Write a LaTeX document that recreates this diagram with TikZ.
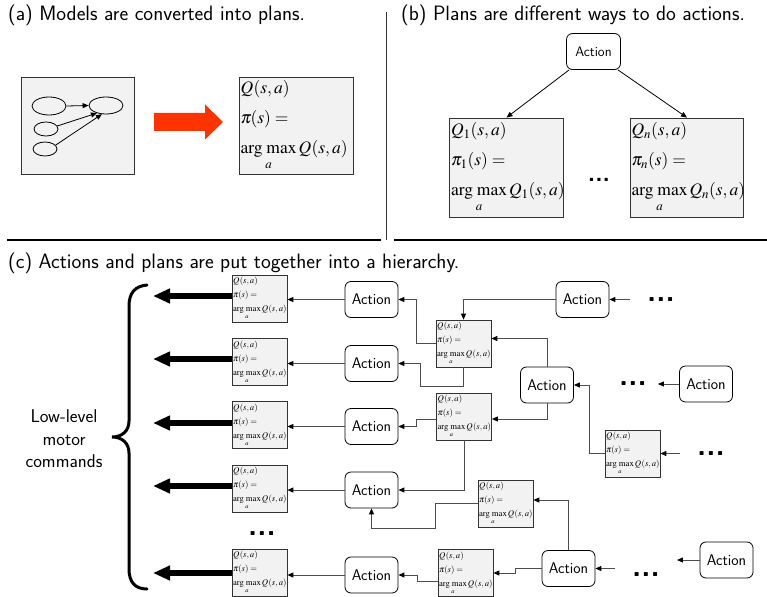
\documentclass[tikz,border=0pt]{standalone}
\usepackage{mathptmx}
\usepackage{xcolor}
\definecolor{Edge}{HTML}{333333}
\definecolor{Wire}{HTML}{4D4D4D}
\definecolor{Paper}{HTML}{F2F2F2}
\definecolor{Hot}{HTML}{FF3300}
\usepackage{tikz}
\usetikzlibrary{arrows.meta,positioning,shapes.geometric}
\tikzset{
  plan/.style={draw=Edge,fill=Paper,line width=0.8pt,inner xsep=1.2pt,inner ysep=0pt,
    minimum width=114pt,minimum height=97pt,text width=111pt,align=left,
    font=\fontsize{17.5}{30}\selectfont},
  miniplan/.style={plan,minimum width=55pt,minimum height=47pt,text width=53pt,
    inner xsep=0.8pt,line width=0.7pt,font=\fontsize{8.7}{14}\selectfont},
  act/.style={draw=black,rounded corners=6pt,minimum width=53pt,minimum height=36pt,
    inner sep=0pt,line width=0.8pt,font=\sffamily\fontsize{15.5}{18}\selectfont},
  blob/.style={ellipse,draw,line width=0.8pt,inner sep=0pt},
  link/.style={-{Triangle[length=6pt,width=5pt,color=black]},line width=0.9pt,draw=Wire},
  feed/.style={-{Triangle[length=6pt,width=5pt]},line width=0.8pt,draw=black},
  motor/.style={-{Triangle[length=17pt,width=14pt]},line width=6pt},
  more/.style={font=\sffamily\bfseries\fontsize{30}{30}\selectfont,inner xsep=17pt,inner ysep=0pt},
  caption/.style={font=\sffamily\fontsize{20.8}{24}\selectfont,anchor=base west,inner sep=0pt}
}
\newcommand{\qplan}[1]{$Q_{#1}(s,a)$\\ $\pi_{#1}(s)=$\\ $\mathop{\mathrm{arg}\mkern4mu\mathrm{max}}\limits_a Q_{#1}(s,a)$}
\newcommand{\etc}{{.}{.}{.}}

\begin{document}
\begin{tikzpicture}[x=1pt,y=-1pt]
  \useasboundingbox (0,0) rectangle (767,596);
  \clip (0,0) rectangle (767,596);
  % panel frames
  \draw[line width=1.5pt] (7,240) -- (381,240) (394,240) -- (767,240);
  \draw[Edge,line width=1.2pt] (386.5,12) -- (386.5,240);
  \node[caption] (ta) at (8,21) {(a) Models are converted into plans.};
  \node[caption] (tb) at (401,21) {(b) Plans are different ways to do actions.};
  \node[caption] (tc) at (8,268) {(c) Actions and plans are put together into a hierarchy.};

  % (a)
  \node[draw=Edge,fill=Paper,line width=0.8pt,minimum width=113pt,minimum height=97pt] (model) at (77.5,125.5) {};
  \node[blob,minimum width=34pt,minimum height=18pt] (e1) at (49,106) {};
  \node[blob,minimum width=34pt,minimum height=17pt] (e2) at (106,105.5) {};
  \node[blob,minimum width=24pt,minimum height=14pt] (e3) at (46,129) {};
  \node[blob,minimum width=24pt,minimum height=14pt] (e4) at (45,149) {};
  \draw[feed] (e1.east) -- (e2.west);
  \draw[feed] (e3.15) -- (e2.220);
  \draw[feed] (e4.20) -- (e2.245);
  \fill[Hot] (154,113) -- (205,113) -- (205,104.5) -- (223,122) -- (205,139.5) -- (205,131) -- (154,131) -- cycle;
  \node[plan] (plan) at (296,125.5) {\qplan{}};

  % (b)
  \node[act,minimum width=54pt,font=\sffamily\fontsize{13.8}{16}\selectfont] (top) at (593.5,51.5) {Action};
  \node[plan,minimum width=113pt,minimum height=99pt] (Q1) at (506.5,167.5) {\qplan{1}};
  \node[plan,minimum width=112pt,minimum height=99pt] (Qn) at (687,167.5) {\qplan{n}};
  \node[more,font=\sffamily\bfseries\fontsize{24}{24}\selectfont] (bdots) at (599,180) {\etc};
  \draw[feed] (top.217) -- (Q1.north);
  \draw[feed] (top.323) -- (Qn.north);

  % (c)
  \draw[line width=3pt,line cap=round] (147,285) .. controls (135,286) and (129,293) .. (129,306) -- (129,421)
    .. controls (129,431) and (122,437) .. (112,437) .. controls (122,437) and (129,443) .. (129,453)
    -- (129,569) .. controls (129,582) and (135,589) .. (147,589);
  \node[align=center,font=\sffamily\fontsize{18.5}{22.5}\selectfont] (lowlevel) at (64,439) {Low-level\\motor\\commands};
  \foreach \n/\y/\a/\m in {1/298.5/299.5/296,2/362/363.5/359,3/425/426.5/423,4/488.5/490/486,5/572.5/575/573}{
    \node[miniplan] (P\n) at (259.5,\y) {\qplan{}};
    \node[act] (A\n) at (371.5,\a) {Action};
    \coordinate (C\n) at (153,\m);
    \draw[motor] (P\n.west |- C\n) -- (C\n);
    \draw[link] (A\n.west) -- (A\n.west -| P\n.east);
  }
  \node[more,inner xsep=0pt] (ldots) at (262,534) {\etc};

  \node[miniplan] (M1) at (463.5,343.5) {\qplan{}};
  \node[miniplan] (M2) at (464,416.5) {\qplan{}};
  \node[miniplan] (M3) at (505.5,503.5) {\qplan{}};
  \node[miniplan] (M4) at (465.5,573) {\qplan{}};
  \node[miniplan] (R1) at (632.5,453.5) {\qplan{}};
  \node[act] (TA) at (582.5,299.5) {Action};
  \node[act] (MA) at (547,385) {Action};
  \node[act] (RA) at (706,384) {Action};
  \node[act] (BA) at (568.5,568.5) {Action};
  \node[act] (BRA) at (726.5,560) {Action};
  \node[more] (d1) at (661,299.5) {\etc};
  \node[more,inner xsep=11pt] (d2) at (633,384) {\etc};
  \node[more] (d3) at (711,453.5) {\etc};
  \node[more] (d4) at (646,575) {\etc};

  \draw[link] (d1.west |- TA.east) -- (TA.east);
  \draw[link] (RA.west) -- (RA.west -| d2.east);
  \draw[link] (d3.west |- R1.east) -- (R1.east);
  \draw[link] (d4.west |- BA.east) -- (BA.east);
  \draw[link] (BRA.west) -- (BRA.west -| d4.east);
  \draw[link] (TA.west) -| (M1.north);
  \draw[link] (M1.west) -- ++(-19.5,0) |- (A1.east);
  \draw[link] (M1.south) -- ++(0,19) -| ([xshift=22pt]A2.east) -- (A2.east);
  \draw[link] (MA.north) |- ([yshift=5pt]M1.east);
  \draw[link] (MA.south) |- ([yshift=-2.5pt]M2.east);
  \draw[link] (R1.west) -| ([xshift=16pt]MA.east) -- (MA.east);
  \draw[link] ([yshift=-2.5pt]M2.west) -- ++(-20,0) |- (A3.east);
  \draw[link] (M2.south) |- (A4.east);
  \draw[link] (BA.north) |- ([yshift=3.5pt]M3.east);
  \draw[link] (M3.west) -- ++(-42,0) |- ([yshift=-20pt]A4.south) -- (A4.south);
  \draw[link] (BA.west) -- ++(-26,0) |- (M4.east);
  \draw[link] ([yshift=-8pt]M4.west) -- ++(-20,0) |- (A5.east);
\end{tikzpicture}
\end{document}
